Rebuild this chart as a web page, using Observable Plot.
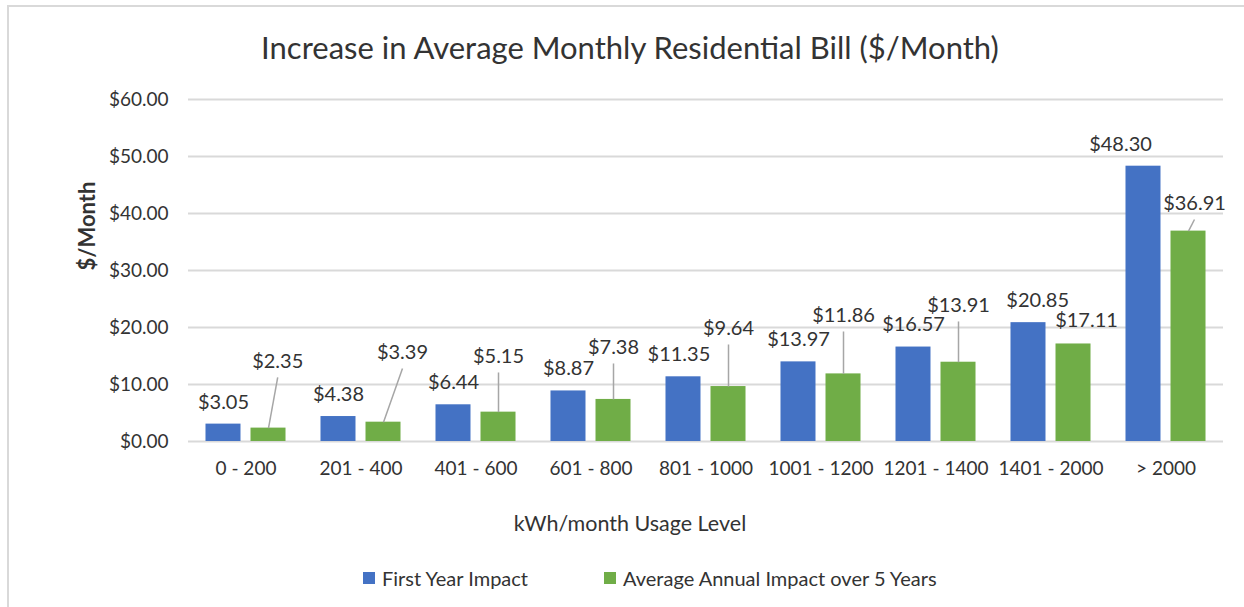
<!DOCTYPE html>
<html>
<head>
<meta charset="utf-8">
<script src="https://cdn.jsdelivr.net/npm/d3@7"></script>
<script src="https://cdn.jsdelivr.net/npm/@observablehq/plot@0.6"></script>
<style>
  body { margin: 0; width: 1244px; height: 607px; overflow: hidden; background: #fff;
         font-family: Lato, "Noto Sans", sans-serif; color: #333; position: relative; }
  #frame { position: absolute; left: 7px; top: 5px; width: 1300px; height: 700px;
           border-left: 2px solid #d9d9d9; border-top: 2px solid #d9d9d9; }
  #title { position: absolute; left: 0; width: 1260px; top: 28px; text-align: center;
           font-size: 31px; line-height: 38px; white-space: nowrap; }
  #chart { position: absolute; left: 0; top: 80px; }
  #xtitle { position: absolute; left: 0; width: 1260px; top: 511px; text-align: center;
            font-size: 21.5px; line-height: 24px; }
  .leg { position: absolute; top: 566px; display: flex; align-items: center;
         font-size: 20px; line-height: 24px; white-space: nowrap; }
  .sw { width: 12px; height: 12px; margin-right: 7px; }
</style>
</head>
<body>
<div id="frame"></div>
<div id="title"></div>
<div id="chart"></div>
<div id="xtitle"></div>
<div id="legend"></div>
<script>
// ---- data ----
const categories = ["0 - 200", "201 - 400", "401 - 600", "601 - 800", "801 - 1000",
                    "1001 - 1200", "1201 - 1400", "1401 - 2000", "> 2000"];
const firstYear = [3.05, 4.38, 6.44, 8.87, 11.35, 13.97, 16.57, 20.85, 48.30];
const avgAnnual = [2.35, 3.39, 5.15, 7.38, 9.64, 11.86, 13.91, 17.11, 36.91];
const seriesNames = ["First Year Impact", "Average Annual Impact over 5 Years"];
const seriesColors = ["#4472C4", "#70AD47"];
const yTicks = [0, 10, 20, 30, 40, 50, 60];
const titleText = "Increase in Average Monthly Residential Bill ($/Month)";
const yTitle = "$/Month";
const xTitle = "kWh/month Usage Level";

// hand-placed data-label callouts (as dragged in the original chart)
const firstLabelNudge = [0, 0, 0, 0, -0.04, 0, 0, 0.08, -0.2];          // in category widths
const avgLabelNudge   = [0.08, 0.165, 0, 0, 0, 0, 0, 0.113, 0.052];      // in category widths
const avgLabelAt      = [14.04, 15.61, 14.91, 16.49, 19.82, 22.1, 23.86, 21.23, 41.75]; // $/month
const avgLeader       = [true, true, true, true, true, true, true, false, true];

// ---- layout constants ----
const BAR_OFF = 0.1957, BAR_HALF = 0.1522, LEADER_GAP = 2.8;
const money = v => "$" + v.toFixed(2);

const rows = categories.flatMap((c, i) => [
  {i, s: 0, v: firstYear[i]},
  {i, s: 1, v: avgAnnual[i]}
]);
const cx = d => d.i + (d.s ? BAR_OFF : -BAR_OFF);
const firstRows = rows.filter(d => d.s === 0);
const avgRows = rows.filter(d => d.s === 1);

document.getElementById("title").textContent = titleText;
document.getElementById("xtitle").textContent = xTitle;

const chart = Plot.plot({
  width: 1244,
  height: 420,
  marginLeft: 188,
  marginRight: 21,
  marginTop: 19,
  marginBottom: 59,
  style: {fontFamily: "Lato, 'Noto Sans', sans-serif", color: "#333", background: "transparent"},
  x: {domain: [-0.5, categories.length - 0.5], axis: null},
  y: {domain: [0, 60], axis: null},
  color: {domain: seriesNames, range: seriesColors},
  marks: [
    Plot.gridY(yTicks, {stroke: "#d9d9d9", strokeWidth: 2, strokeOpacity: 1}),
    Plot.axisY(yTicks, {tickSize: 0, tickPadding: 20, tickFormat: money, fontSize: 19, label: null}),
    Plot.axisX(categories.map((_, i) => i), {tickSize: 0, tickPadding: 20, tickFormat: i => categories[i],
                fontSize: 19, label: null}),
    Plot.text([yTitle], {frameAnchor: "left", rotate: -90, dx: -101, fontSize: 22, fontWeight: "bold",
                         fill: "#333"}),
    Plot.rectY(rows, {x1: d => cx(d) - BAR_HALF, x2: d => cx(d) + BAR_HALF, y: "v",
                      fill: d => seriesNames[d.s]}),
    Plot.link(avgRows.filter(d => avgLeader[d.i]), {
      x1: cx, y1: "v",
      x2: d => cx(d) + avgLabelNudge[d.i], y2: d => avgLabelAt[d.i] - LEADER_GAP,
      stroke: "#a6a6a6", strokeWidth: 1.5
    }),
    Plot.text(firstRows, {x: d => cx(d) + firstLabelNudge[d.i], y: "v", dy: -22,
                          text: d => money(d.v), fontSize: 20, fill: "#333"}),
    Plot.text(avgRows, {x: d => cx(d) + avgLabelNudge[d.i], y: d => avgLabelAt[d.i],
                        text: d => money(d.v), fontSize: 20, fill: "#333"})
  ]
});
document.getElementById("chart").appendChild(chart);

// legend (HTML, below the SVG)
const legendLeft = [363, 604];
const legend = document.getElementById("legend");
seriesNames.forEach((name, k) => {
  const item = document.createElement("div");
  item.className = "leg";
  item.style.left = legendLeft[k] + "px";
  const sw = document.createElement("div");
  sw.className = "sw";
  sw.style.background = seriesColors[k];
  const t = document.createElement("span");
  t.textContent = name;
  item.appendChild(sw);
  item.appendChild(t);
  legend.appendChild(item);
});
</script>
</body>
</html>
